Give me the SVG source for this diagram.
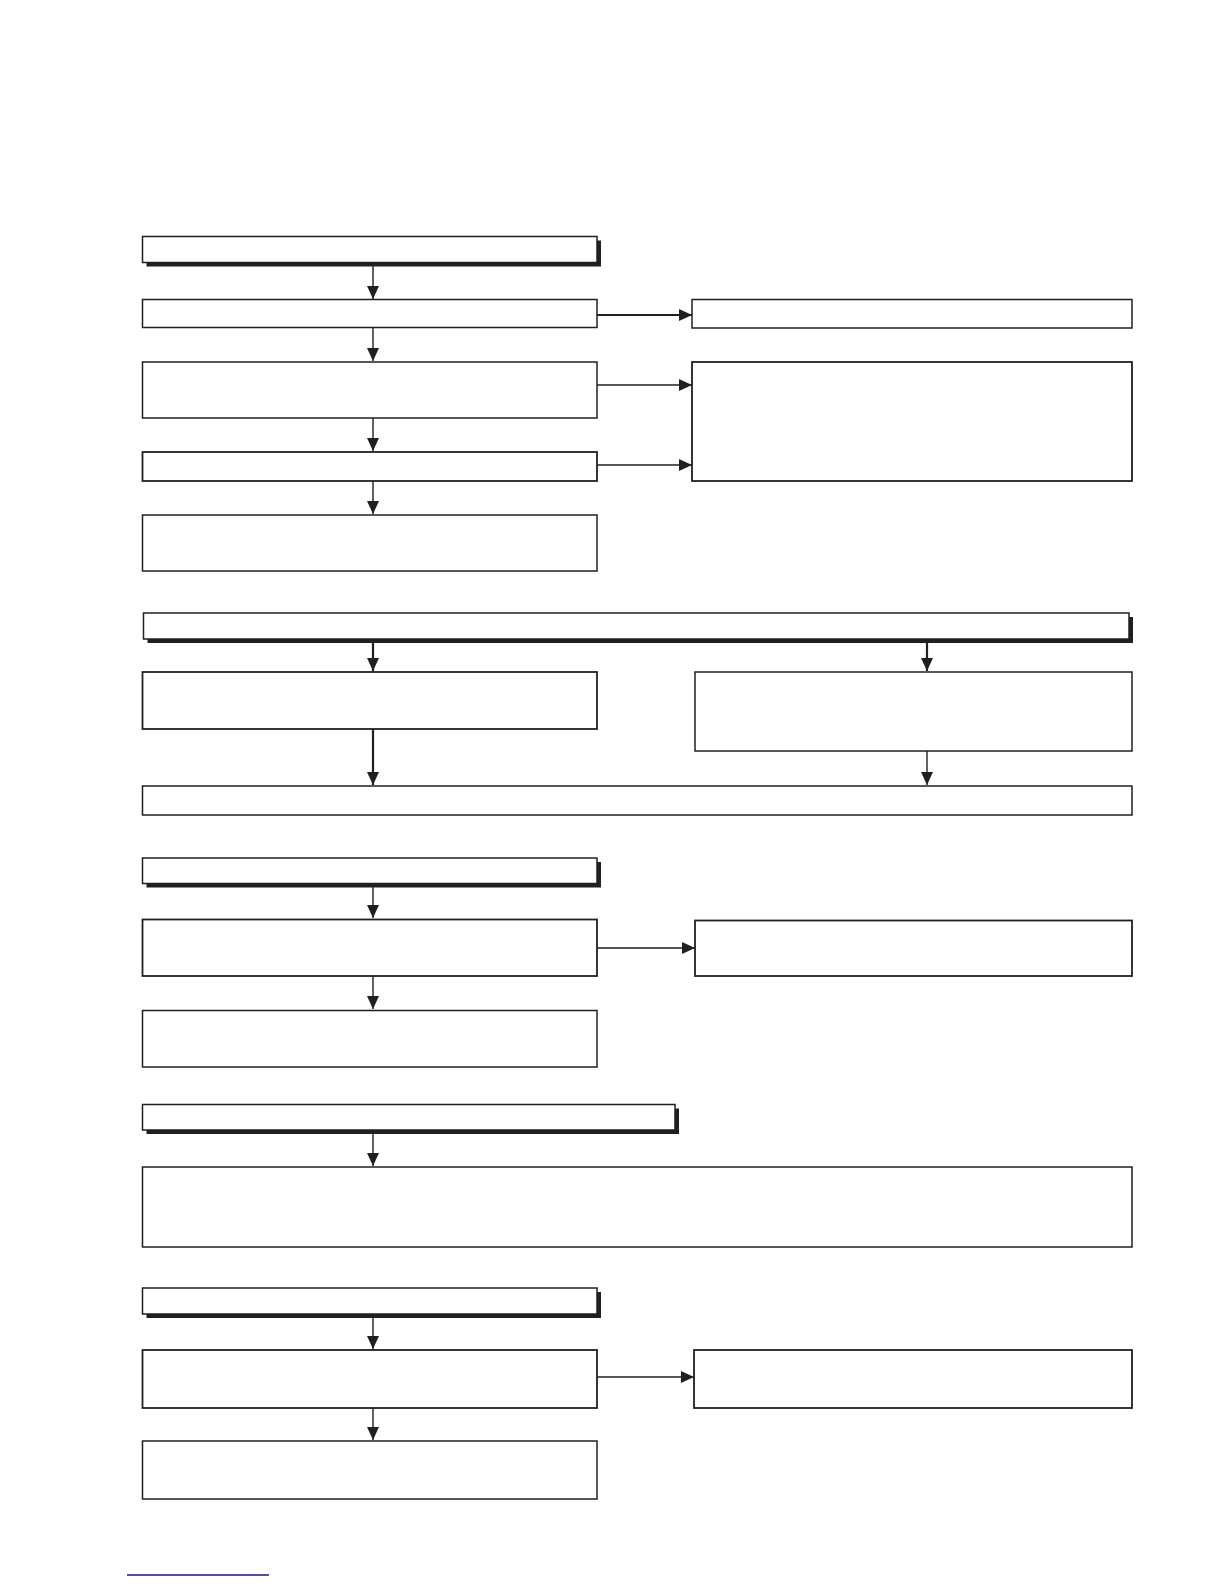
<svg xmlns="http://www.w3.org/2000/svg" width="1224" height="1584" viewBox="0 0 1224 1584">
<style>
.box{fill:#fff;stroke:#231f20;stroke-width:1.5}
.shadow{fill:#231f20}
.con{stroke:#231f20;stroke-width:1.4;fill:none}
.thick{stroke-width:2.2}
</style>
<defs>
<marker id="ah" markerUnits="userSpaceOnUse" markerWidth="15" markerHeight="13" refX="13" refY="6" orient="auto">
<path d="M0,0 L13,6 L0,12 z" fill="#231f20"/>
</marker>
</defs>
<rect width="1224" height="1584" fill="#fff"/>
<g id="n1"><rect class="shadow" x="146.5" y="240.5" width="454.5" height="26"/><rect class="box" x="142.5" y="236.5" width="454.5" height="26"/></g>
<g id="n2"><rect class="box" x="142.5" y="299.5" width="454.5" height="28"/></g>
<g id="n3"><rect class="box" x="692" y="299.5" width="440" height="28.5"/></g>
<g id="n4"><rect class="box" x="142.5" y="362" width="454.5" height="56"/></g>
<g id="n5"><rect class="box" x="692" y="362" width="440" height="119" style="stroke-width:1.8"/></g>
<g id="n6"><rect class="box" x="142.5" y="452" width="454.5" height="29" style="stroke-width:1.8"/></g>
<g id="n7"><rect class="box" x="142.5" y="515" width="454.5" height="56"/></g>
<g id="n8"><rect class="shadow" x="147.5" y="617" width="985.5" height="26"/><rect class="box" x="143.5" y="613" width="985.5" height="26"/></g>
<g id="n9"><rect class="box" x="142.5" y="672" width="454.5" height="57" style="stroke-width:1.8"/></g>
<g id="n10"><rect class="box" x="695" y="672" width="437" height="79"/></g>
<g id="n11"><rect class="box" x="142.5" y="786" width="989.5" height="29"/></g>
<g id="n12"><rect class="shadow" x="146.5" y="862" width="454.5" height="25.5"/><rect class="box" x="142.5" y="858" width="454.5" height="25.5"/></g>
<g id="n13"><rect class="box" x="142.5" y="919.5" width="454.5" height="56.5" style="stroke-width:1.8"/></g>
<g id="n14"><rect class="box" x="695" y="920.5" width="437" height="55.5" style="stroke-width:1.8"/></g>
<g id="n15"><rect class="box" x="142.5" y="1010.5" width="454.5" height="56.5"/></g>
<g id="n16"><rect class="shadow" x="146.5" y="1108.5" width="532.5" height="25.5"/><rect class="box" x="142.5" y="1104.5" width="532.5" height="25.5"/></g>
<g id="n17"><rect class="box" x="142.5" y="1167" width="989.5" height="80"/></g>
<g id="n18"><rect class="shadow" x="146.5" y="1292" width="454.5" height="26"/><rect class="box" x="142.5" y="1288" width="454.5" height="26"/></g>
<g id="n19"><rect class="box" x="142.5" y="1350" width="454.5" height="58" style="stroke-width:1.8"/></g>
<g id="n20"><rect class="box" x="694" y="1350" width="438" height="58" style="stroke-width:1.8"/></g>
<g id="n21"><rect class="box" x="142.5" y="1441" width="454.5" height="58"/></g>
<g id="connectors">
<line class="con" x1="373" y1="263" x2="373" y2="299" marker-end="url(#ah)"/>
<line class="con thick" x1="597" y1="315" x2="692" y2="315" marker-end="url(#ah)"/>
<line class="con" x1="373" y1="328" x2="373" y2="361" marker-end="url(#ah)"/>
<line class="con" x1="597" y1="385" x2="692" y2="385" marker-end="url(#ah)"/>
<line class="con" x1="373" y1="418" x2="373" y2="451" marker-end="url(#ah)"/>
<line class="con" x1="597" y1="465" x2="692" y2="465" marker-end="url(#ah)"/>
<line class="con" x1="373" y1="481" x2="373" y2="514" marker-end="url(#ah)"/>
<line class="con thick" x1="373" y1="639" x2="373" y2="671" marker-end="url(#ah)"/>
<line class="con thick" x1="927" y1="639" x2="927" y2="671" marker-end="url(#ah)"/>
<line class="con thick" x1="373" y1="729" x2="373" y2="785" marker-end="url(#ah)"/>
<line class="con" x1="927" y1="751" x2="927" y2="785" marker-end="url(#ah)"/>
<line class="con" x1="373" y1="884" x2="373" y2="918" marker-end="url(#ah)"/>
<line class="con" x1="597" y1="948" x2="695" y2="948" marker-end="url(#ah)"/>
<line class="con" x1="373" y1="976" x2="373" y2="1009" marker-end="url(#ah)"/>
<line class="con" x1="373" y1="1130" x2="373" y2="1166" marker-end="url(#ah)"/>
<line class="con" x1="373" y1="1314" x2="373" y2="1349" marker-end="url(#ah)"/>
<line class="con" x1="597" y1="1377" x2="694" y2="1377" marker-end="url(#ah)"/>
<line class="con" x1="373" y1="1408" x2="373" y2="1440" marker-end="url(#ah)"/>
</g>
<line x1="127" y1="1575" x2="269" y2="1575" stroke="#14148a" stroke-width="1.6"/>
</svg>
